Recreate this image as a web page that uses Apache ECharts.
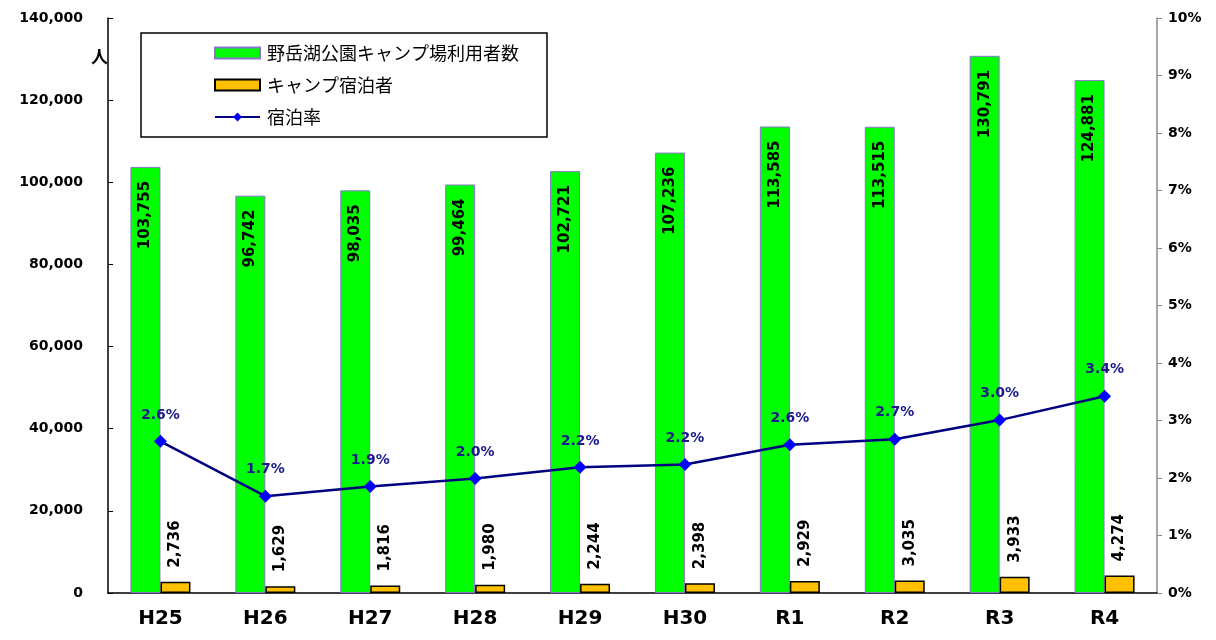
<!DOCTYPE html>
<html><head><meta charset="utf-8">
<script src="https://cdn.jsdelivr.net/npm/echarts@6/dist/echarts.min.js"></script>
<style>html,body{margin:0;padding:0;background:#fff}#c{width:1216px;height:640px}</style>
</head><body><div id="c"></div>
<script>
const categories = ['H25','H26','H27','H28','H29','H30','R1','R2','R3','R4'];
const campUsers = [103755, 96742, 98035, 99464, 102721, 107236, 113585, 113515, 130791, 124881];
const campStays = [2736, 1629, 1816, 1980, 2244, 2398, 2929, 3035, 3933, 4274];
const stayRate = [2.637, 1.684, 1.852, 1.991, 2.185, 2.236, 2.579, 2.674, 3.007, 3.422];
const leftTicks = [0, 140000, 20000];
const rightTicks = [0, 10, 1];

const FONT = '"DejaVu Sans", sans-serif';
const fmt = v => v.toLocaleString('en-US');
const chart = echarts.init(document.getElementById('c'));
chart.setOption({
  animation: false,
  textStyle: {fontFamily: FONT},
  grid: {left: 108, right: 59, top: 18, bottom: 47},
  legend: {
    orient: 'vertical', left: 141, top: 33,
    padding: [11, 28, 11, 73], itemGap: 14, itemWidth: 45, itemHeight: 11,
    borderColor: '#000', borderWidth: 1.5,
    textStyle: {fontSize: 18, lineHeight: 18, color: '#000', fontFamily: '"Noto Sans CJK JP", sans-serif', padding: [0, 0, 0, 2]},
    data: [
      {name: '野岳湖公園キャンプ場利用者数', icon: 'rect'},
      {name: 'キャンプ宿泊者', icon: 'rect'},
      {name: '宿泊率'}
    ]
  },
  graphic: [{type: 'text', left: 91, top: 48, style: {text: '人', font: 'bold 17px "Noto Sans CJK JP"', fill: '#000'}}],
  xAxis: {
    type: 'category', data: categories,
    axisLine: {lineStyle: {color: '#000', width: 1.5}},
    axisTick: {inside: true, length: 6, lineStyle: {color: '#000'}},
    axisLabel: {fontSize: 20, fontWeight: 'bold', color: '#000', margin: 16, fontFamily: FONT}
  },
  yAxis: [{
    type: 'value', min: leftTicks[0], max: leftTicks[1], interval: leftTicks[2],
    splitLine: {show: false},
    axisLine: {show: true, lineStyle: {color: '#000', width: 1.5}},
    axisTick: {show: true, inside: true, length: 5, lineStyle: {color: '#000'}},
    axisLabel: {fontSize: 14, fontWeight: 'bold', color: '#000', margin: 25, formatter: v => fmt(v)}
  }, {
    type: 'value', min: rightTicks[0], max: rightTicks[1], interval: rightTicks[2],
    splitLine: {show: false},
    axisLine: {show: true, lineStyle: {color: '#888', width: 1.5}},
    axisTick: {show: true, length: 5, lineStyle: {color: '#888'}},
    axisLabel: {fontSize: 14, fontWeight: 'bold', color: '#000', margin: 11, formatter: v => v + '%'}
  }],
  series: [{
    name: '野岳湖公園キャンプ場利用者数', type: 'bar', data: campUsers,
    barWidth: 30, barGap: '0%',
    itemStyle: {color: '#00ff00', borderColor: '#8877cc', borderWidth: 1},
    label: {show: true, position: 'insideTop', rotate: 90, align: 'right', verticalAlign: 'middle',
      distance: 14, fontSize: 15, fontWeight: 'bold', color: '#000', formatter: p => fmt(p.value)}
  }, {
    name: 'キャンプ宿泊者', type: 'bar', data: campStays,
    barWidth: 30,
    itemStyle: {color: '#ffc000', borderColor: '#000', borderWidth: 1.5},
    label: {show: true, position: 'top', rotate: 90, align: 'left', verticalAlign: 'middle',
      distance: 14, fontSize: 15, fontWeight: 'bold', color: '#000', formatter: p => fmt(p.value)}
  }, {
    name: '宿泊率', type: 'line', yAxisIndex: 1, data: stayRate,
    symbol: 'diamond', symbolSize: 13,
    lineStyle: {color: '#000080', width: 2.5},
    itemStyle: {color: '#0000ff'},
    label: {show: true, position: 'top', distance: 13, fontSize: 14, fontWeight: 'bold', color: '#1a1a8c',
      formatter: p => p.value.toFixed(1) + '%'}
  }]
});
</script></body></html>
